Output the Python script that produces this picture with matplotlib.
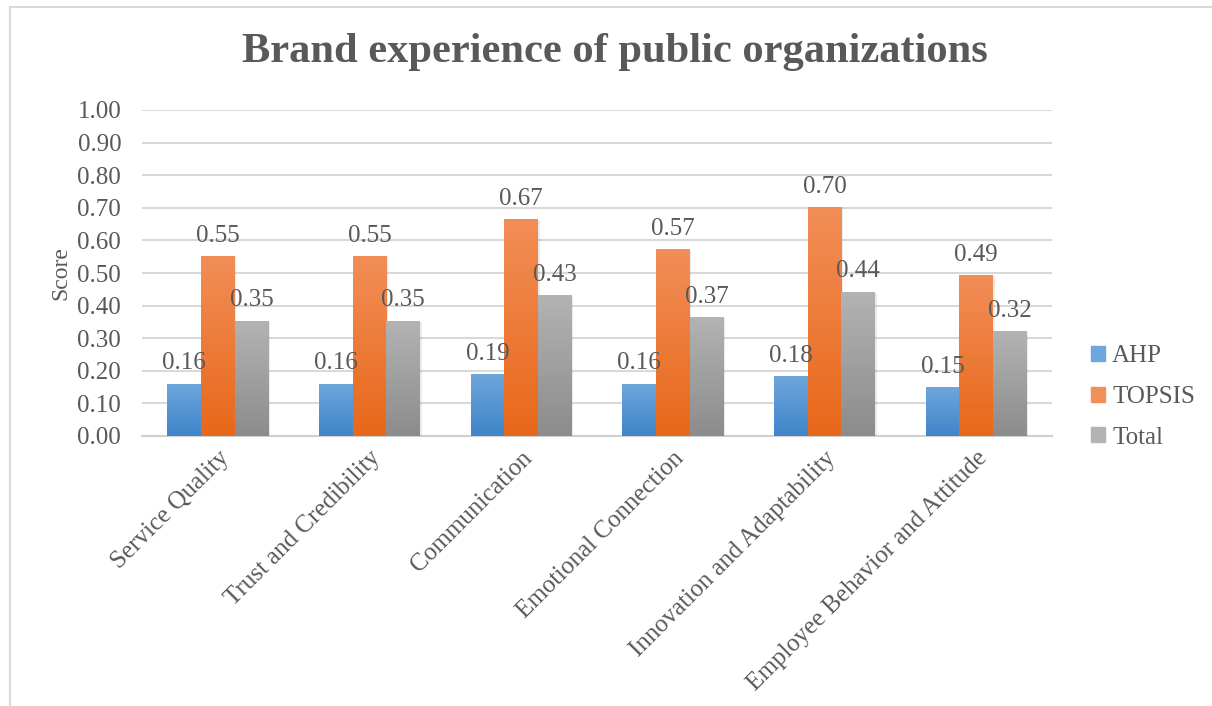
import matplotlib
matplotlib.use('Agg')
import matplotlib.pyplot as plt
import numpy as np
from matplotlib.colors import LinearSegmentedColormap
from matplotlib.patches import Rectangle

categories = ['Service Quality', 'Trust and Credibility', 'Communication',
              'Emotional Connection', 'Innovation and Adaptability',
              'Employee Behavior and Attitude']
ahp = [0.161, 0.161, 0.191, 0.161, 0.184, 0.149]
topsis = [0.553, 0.553, 0.666, 0.573, 0.703, 0.494]
total = [0.354, 0.354, 0.431, 0.366, 0.443, 0.322]
series_names = ['AHP', 'TOPSIS', 'Total']

# top colour, bottom colour for the gradient fill
grads = [('#6fa6dc', '#3f85c9'), ('#f28e57', '#e8681a'), ('#b3b3b3', '#8c8c8c')]
txt = '#595959'

plt.rcParams['font.family'] = ['Liberation Serif', 'DejaVu Serif']

fig = plt.figure(figsize=(12.12, 7.06), dpi=100)
ax = fig.add_axes([142/1212, 1 - 436/706, 910/1212, 326/706])

# chart frame
fig.patches.append(Rectangle((10/1212, -0.01), 1.1, 1 - 7/706 + 0.01,
                             transform=fig.transFigure, fill=False,
                             edgecolor='#d9d9d9', linewidth=1.5))

x = np.arange(len(categories))
w = 0.222
for i, (vals, name) in enumerate(zip([ahp, topsis, total], series_names)):
    bars = ax.bar(x + (i - 1) * w, vals, w, color=grads[i][1], label=name,
                  zorder=3)
    cmap = LinearSegmentedColormap.from_list('g%d' % i, [grads[i][1], grads[i][0]])
    for b, v in zip(bars, vals):
        bx, bw, bh = b.get_x(), b.get_width(), b.get_height()
        # soft shadow
        ax.add_patch(Rectangle((bx + 0.012, -0.004), bw, bh, color='#000000',
                               alpha=0.08, zorder=2, linewidth=0))
        grad = np.linspace(0, 1, 100).reshape(-1, 1)
        im = ax.imshow(grad, cmap=cmap, origin='lower', aspect='auto',
                       extent=[bx, bx + bw, 0, bh], zorder=4)
        im.set_clip_path(b)
        ax.text(bx + bw / 2, bh + 0.028, '%.2f' % v, ha='center', va='bottom',
                fontsize=18, color=txt, zorder=5)

ax.set_xlim(-0.5, 5.5)
ax.set_ylim(0, 1.0)
ax.set_yticks(np.arange(0, 1.01, 0.1))
ax.set_yticklabels(['%.2f' % t for t in np.arange(0, 1.01, 0.1)])
ax.yaxis.grid(True, color='#d9d9d9', linewidth=1.5, zorder=0)
ax.set_axisbelow(True)
for s in ['top', 'right', 'left']:
    ax.spines[s].set_visible(False)
ax.spines['bottom'].set_color('#d0d0d0')
ax.spines['bottom'].set_linewidth(1.5)
ax.spines['bottom'].set_zorder(1)
ax.tick_params(axis='both', length=0, labelsize=18, labelcolor=txt)
ax.tick_params(axis='y', pad=15)
ax.set_xticks(x)
ax.set_xticklabels(categories, rotation=45, ha='right', rotation_mode='anchor')
ax.tick_params(axis='x', pad=8)
ax.set_ylabel('Score', fontsize=17, color=txt, labelpad=4)

fig.text(615/1212, 1 - 52/706, 'Brand experience of public organizations',
         fontsize=30.6, fontweight='bold', color=txt, ha='center', va='center')

leg = ax.legend(loc='center left', bbox_to_anchor=(1.018, 0.12), frameon=False,
                fontsize=18, labelcolor=txt, handlelength=0.55, handleheight=0.55,
                handletextpad=0.3, labelspacing=0.75)
for h, g in zip(leg.legend_handles, grads):
    h.set_color(g[0])

fig.savefig('out.png', dpi=100)
